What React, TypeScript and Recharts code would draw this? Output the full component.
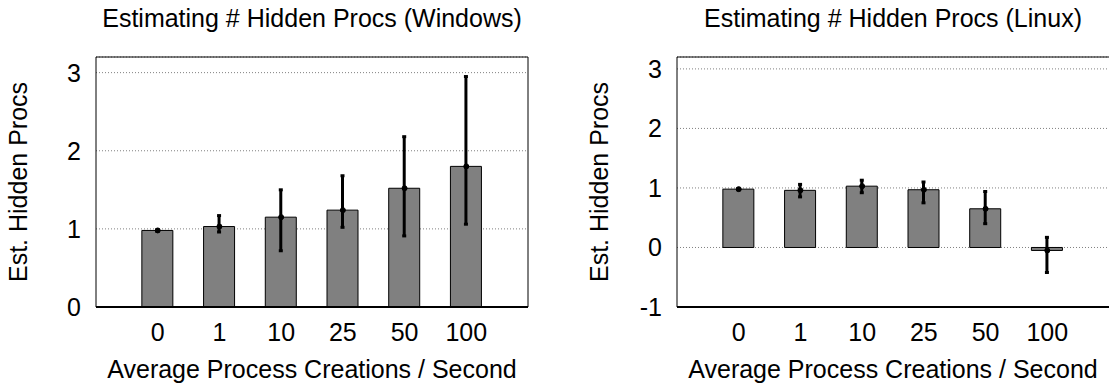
import { ComposedChart, Bar, Line, XAxis, YAxis, CartesianGrid, ErrorBar, Label } from 'recharts';

// x categories (process creations per second), placed at 0..5
const categories = ['0', '1', '10', '25', '50', '100'];
const positions = [0, 1, 2, 3, 4, 5];

// Windows: mean estimate and error range
const winMean = [0.98, 1.03, 1.15, 1.24, 1.52, 1.8];
const winLow = [0.97, 0.96, 0.72, 1.02, 0.91, 1.06];
const winHigh = [0.99, 1.17, 1.5, 1.68, 2.18, 2.95];

// Linux: mean estimate and error range
const linMean = [0.98, 0.96, 1.03, 0.97, 0.65, -0.05];
const linLow = [0.97, 0.85, 0.92, 0.75, 0.4, -0.42];
const linHigh = [0.99, 1.06, 1.13, 1.1, 0.94, 0.17];

const winTicks = [0, 1, 2, 3];
const winMinor = [0.2, 0.4, 0.6, 0.8, 1.2, 1.4, 1.6, 1.8, 2.2, 2.4, 2.6, 2.8, 3.2];
const linTicks = [-1, 0, 1, 2, 3];
const linMinor = [-0.8, -0.6, -0.4, -0.2, 0.2, 0.4, 0.6, 0.8, 1.2, 1.4, 1.6, 1.8, 2.2, 2.4, 2.6, 2.8];

const FONT = 25;
const PLOT_W = 432;

const makeRows = (mean: number[], low: number[], high: number[]) =>
  positions.map((x, i) => ({ x, value: mean[i], err: [mean[i] - low[i], high[i] - mean[i]] }));

// rotated y axis title, baseline sits 69px left of the plot
const yTitle = (props: any) => {
  const vb = props.viewBox || { x: 0, y: 57, width: 96, height: 250 };
  const cx = vb.x + vb.width - 69;
  const cy = vb.y + vb.height / 2;
  return (
    <text x={cx} y={cy} transform={`rotate(-90 ${cx} ${cy})`} textAnchor="middle" fontSize={FONT} fill="#000">
      Est. Hidden Procs
    </text>
  );
};

interface PanelProps {
  title: string;
  rows: Array<{ x: number; value: number; err: number[] }>;
  domain: [number, number];
  ticks: number[];
  minor: number[];
  left: number;
  width: number;
  yWidth: number;
  rightMargin: number;
  rightBorder: boolean;
}

function Panel({ title, rows, domain, ticks, minor, left, width, yWidth, rightMargin, rightBorder }: PanelProps) {
  const tickStyle = { fontSize: FONT, fill: '#000' };
  return (
    <div style={{ position: 'absolute', left, top: 0, width, height: 387 }}>
      <div style={{ position: 'absolute', left: yWidth - 50, top: 5.5, width: PLOT_W + 100, textAlign: 'center', fontSize: FONT, lineHeight: '25px', whiteSpace: 'nowrap' }}>
        {title}
      </div>
      <ComposedChart width={width} height={387} data={rows} margin={{ top: 57, right: rightMargin, bottom: 0, left: 0 }}>
        <CartesianGrid vertical={false} stroke="#808080" strokeDasharray="1 2" />
        <XAxis
          dataKey="x"
          type="number"
          domain={[-1, 6]}
          allowDataOverflow
          ticks={positions}
          interval={0}
          tickFormatter={(v: number) => categories[v]}
          height={80}
          tickLine={false}
          tickSize={0}
          tickMargin={16}
          tick={tickStyle}
          axisLine={{ stroke: '#000', strokeWidth: 2 }}
        >
          <Label value="Average Process Creations / Second" position="insideBottom" offset={9} fontSize={FONT} fill="#000" />
        </XAxis>
        <XAxis xAxisId="bt" type="number" domain={[-1, 6]} allowDataOverflow ticks={positions} interval={0} orientation="bottom" mirror tick={false} tickSize={5} axisLine={false} tickLine={{ stroke: '#000', strokeWidth: 1.5 }} />
        <XAxis xAxisId="top" type="number" domain={[-1, 6]} allowDataOverflow ticks={positions} interval={0} orientation="top" mirror tick={false} tickSize={5} axisLine={{ stroke: '#000' }} tickLine={{ stroke: '#000', strokeWidth: 1.5 }} />
        <YAxis
          type="number"
          domain={domain}
          allowDataOverflow
          ticks={ticks}
          interval={0}
          width={yWidth}
          tickLine={false}
          tickSize={0}
          tickMargin={15}
          tick={tickStyle}
          axisLine={{ stroke: '#000' }}
        >
          <Label content={yTitle} />
        </YAxis>
        <YAxis yAxisId="lmaj" type="number" domain={domain} allowDataOverflow ticks={ticks} interval={0} mirror tick={false} tickSize={6} axisLine={false} tickLine={{ stroke: '#000', strokeWidth: 1.5 }} />
        <YAxis yAxisId="lmin" type="number" domain={domain} allowDataOverflow ticks={minor} interval={0} mirror tick={false} tickSize={3} axisLine={false} tickLine={{ stroke: '#000' }} />
        <YAxis yAxisId="rmaj" type="number" domain={domain} allowDataOverflow ticks={ticks} interval={0} orientation="right" mirror tick={false} tickSize={6} axisLine={rightBorder ? { stroke: '#000' } : false} tickLine={{ stroke: '#000', strokeWidth: 1.5 }} />
        <YAxis yAxisId="rmin" type="number" domain={domain} allowDataOverflow ticks={minor} interval={0} orientation="right" mirror tick={false} tickSize={3} axisLine={false} tickLine={{ stroke: '#000' }} />
        <Bar dataKey="value" barSize={31} fill="#808080" stroke="#000" strokeWidth={1} isAnimationActive={false}>
          <ErrorBar dataKey="err" direction="y" width={2} stroke="#000" strokeWidth={3} isAnimationActive={false} />
        </Bar>
        <Line dataKey="value" stroke="none" dot={{ r: 2.5, fill: '#000', stroke: '#000' }} activeDot={false} isAnimationActive={false} />
      </ComposedChart>
    </div>
  );
}

export default function App() {
  return (
    <div style={{ position: 'absolute', left: 0, top: 0, width: 1109, height: 387, background: '#fff', fontFamily: "'Liberation Sans', Arial, Helvetica, sans-serif", color: '#000', overflow: 'hidden' }}>
      <Panel
        title="Estimating # Hidden Procs (Windows)"
        rows={makeRows(winMean, winLow, winHigh)}
        domain={[0, 3.2]}
        ticks={winTicks}
        minor={winMinor}
        left={0}
        width={555}
        yWidth={96}
        rightMargin={27}
        rightBorder
      />
      <Panel
        title="Estimating # Hidden Procs (Linux)"
        rows={makeRows(linMean, linLow, linHigh)}
        domain={[-1, 3.2]}
        ticks={linTicks}
        minor={linMinor}
        left={555}
        width={554}
        yWidth={122}
        rightMargin={0}
        rightBorder={false}
      />
    </div>
  );
}
